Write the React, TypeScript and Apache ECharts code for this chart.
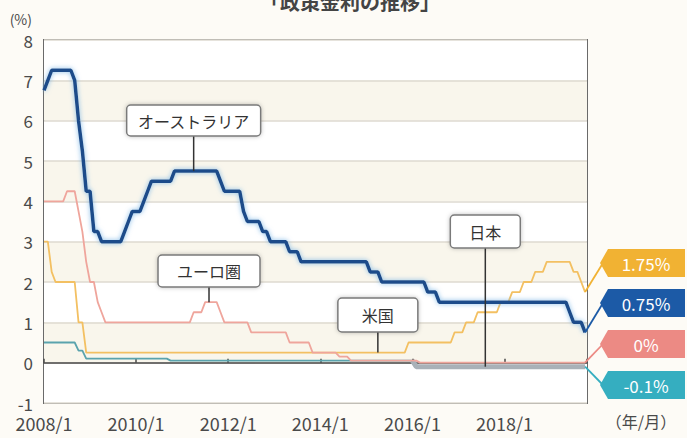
import React, { useEffect, useRef } from "react";
import * as echarts from "echarts";

// ---- data (change points, monthly values held until next change) ----
const END_MONTH = "2019/10";

const ausDates = ["2008/1", "2008/2", "2008/3", "2008/9", "2008/10", "2008/11", "2008/12", "2009/2", "2009/4", "2009/10", "2009/11", "2009/12", "2010/3", "2010/4", "2010/5", "2010/11", "2011/11", "2011/12", "2012/5", "2012/6", "2012/10", "2012/12", "2013/5", "2013/8", "2015/2", "2015/5", "2016/5", "2016/8", "2019/6", "2019/7", "2019/10"];
const ausRates = [6.75, 7.0, 7.25, 7.0, 6.0, 5.25, 4.25, 3.25, 3.0, 3.25, 3.5, 3.75, 4.0, 4.25, 4.5, 4.75, 4.5, 4.25, 3.75, 3.5, 3.25, 3.0, 2.75, 2.5, 2.25, 2.0, 1.75, 1.5, 1.25, 1.0, 0.75];

const euroDates = ["2008/1", "2008/7", "2008/10", "2008/11", "2008/12", "2009/1", "2009/3", "2009/4", "2009/5", "2011/4", "2011/7", "2011/11", "2011/12", "2012/7", "2013/5", "2013/11", "2014/6", "2014/9", "2016/3"];
const euroRates = [4.0, 4.25, 3.75, 3.25, 2.5, 2.0, 1.5, 1.25, 1.0, 1.25, 1.5, 1.25, 1.0, 0.75, 0.5, 0.25, 0.15, 0.05, 0.0];

const usDates = ["2008/1", "2008/3", "2008/4", "2008/10", "2008/12", "2015/12", "2016/12", "2017/3", "2017/6", "2017/12", "2018/3", "2018/6", "2018/9", "2018/12", "2019/7", "2019/9", "2019/10"];
const usRates = [3.0, 2.25, 2.0, 1.0, 0.25, 0.5, 0.75, 1.0, 1.25, 1.5, 1.75, 2.0, 2.25, 2.5, 2.25, 2.0, 1.75];

const japanDates = ["2008/1", "2008/10", "2008/12", "2010/10", "2016/2"];
const japanRates = [0.5, 0.3, 0.1, 0.05, -0.1];
const japanNegativeFrom = "2016/1";

const xTickLabels = ["2008/1", "2010/1", "2012/1", "2014/1", "2016/1", "2018/1"];
const endLabels = ["1.75%", "0.75%", "0%", "-0.1%"];

// callouts: name, anchor month
const calloutNames = ["オーストラリア", "ユーロ圏", "米国", "日本"];
const calloutMonths = ["2011/4", "2011/8", "2015/4", "2017/8"];

function monthIndex(d: string) {
  const [y, m] = d.split("/").map(Number);
  return (y - 2008) * 12 + (m - 1);
}

function expand(dates: string[], rates: number[]): [number, number][] {
  const last = monthIndex(END_MONTH);
  const out: [number, number][] = [];
  let j = 0;
  for (let i = 0; i <= last; i++) {
    while (j + 1 < dates.length && monthIndex(dates[j + 1]) <= i) j++;
    out.push([i, rates[j]]);
  }
  return out;
}

export default function App() {
  const ref = useRef<HTMLDivElement>(null);
  useEffect(() => {
    if (!ref.current) return;
    const chart = echarts.init(ref.current, null, { renderer: "svg" });
    const aus = expand(ausDates, ausRates);
    const euro = expand(euroDates, euroRates);
    const us = expand(usDates, usRates);
    const jp = expand(japanDates, japanRates);
    const negIdx = monthIndex(japanNegativeFrom);
    const jpPos = jp.filter((p) => p[0] <= negIdx);
    const jpNeg = jp.filter((p) => p[0] >= negIdx);
    const lastM = monthIndex(END_MONTH);
    const font = "'Noto Sans CJK JP', 'Noto Sans', sans-serif";

    chart.setOption({
      animation: false,
      backgroundColor: "#fdfbf6",
      textStyle: { fontFamily: font },
      grid: {
        left: 44, right: 100, top: 40, bottom: 35,
        show: true, backgroundColor: "#ffffff", borderColor: "#6a6a6a", borderWidth: 2,
      },
      xAxis: [
        {
          type: "value", min: 0, max: lastM + 0.5, interval: 24,
          axisLine: { show: false, onZero: false }, axisTick: { show: false }, splitLine: { show: false },
          axisLabel: {
            fontSize: 18, lineHeight: 18, color: "#4a4a4a", margin: 11, showMaxLabel: false,
            formatter: (v: number) => xTickLabels[v / 24] ?? "",
          },
        },
        {
          type: "value", min: 0, max: lastM + 0.5, interval: 24, position: "bottom",
          axisLine: { show: true, onZero: true, lineStyle: { color: "#4a4a4a", width: 1.5 } },
          axisTick: { show: true, length: 4, inside: true, lineStyle: { color: "#4a4a4a", width: 1.5 } },
          axisLabel: { show: false }, splitLine: { show: false },
        },
      ],
      yAxis: {
        type: "value", min: -1, max: 8, interval: 1,
        name: "(%)", nameLocation: "end", nameGap: 14,
        nameTextStyle: { fontSize: 14, color: "#4a4a4a", align: "right", padding: [0, 12, 0, 0] },
        axisLine: { show: false }, axisTick: { show: false },
        axisLabel: { fontSize: 17, lineHeight: 15, color: "#4a4a4a", margin: 11 },
        splitLine: { show: true, lineStyle: { color: "#dedad0", width: 1.5 } },
        splitArea: { show: true, areaStyle: { color: ["#ffffff", "#f9f6ec"] } },
      },
      series: [
        { type: "line", name: "日本負", data: jpNeg, showSymbol: false, lineStyle: { color: "#a9b1b8", width: 5 }, z: 2 },
        { type: "line", name: "日本", data: jpPos, showSymbol: false, lineStyle: { color: "#5aa3ad", width: 1.8 }, z: 3 },
        { type: "line", name: "米国", data: us, showSymbol: false, lineStyle: { color: "#f3c062", width: 1.8 }, z: 4 },
        { type: "line", name: "ユーロ圏", data: euro, showSymbol: false, lineStyle: { color: "#efa59c", width: 1.8 }, z: 5 },
        {
          type: "line", name: "オーストラリア", data: aus, showSymbol: false, z: 6,
          lineStyle: { color: "#1f4c8a", width: 3.5, shadowColor: "rgba(120,180,230,0.9)", shadowBlur: 5 },
        },
      ],
    });

    const px = (m: number, v: number) => chart.convertToPixel({ gridIndex: 0 }, [m, v]) as number[];
    const seriesByName: Record<string, [number, number][]> = {
      "オーストラリア": aus, "ユーロ圏": euro, "米国": us, "日本": jp,
    };
    const boxes = [
      { w: 134, h: 31, top: 105 },
      { w: 102, h: 32, top: 255 },
      { w: 80, h: 34, top: 298 },
      { w: 70, h: 33, top: 215 },
    ];
    const elements: any[] = [];
    calloutNames.forEach((name, i) => {
      const m = monthIndex(calloutMonths[i]);
      const v = seriesByName[name][m][1];
      const [x, y] = px(m, v);
      const b = boxes[i];
      elements.push({
        type: "line", z: 20,
        shape: { x1: x, y1: b.top + b.h, x2: x, y2: y },
        style: { stroke: "#333", lineWidth: 1.5 },
      });
      elements.push({
        type: "rect", z: 21,
        shape: { x: x - b.w / 2, y: b.top, width: b.w, height: b.h, r: 4 },
        style: { fill: "#ffffff", stroke: "#7a7a7a", lineWidth: 1.5, shadowBlur: 4, shadowColor: "rgba(0,0,0,0.25)" },
      });
      elements.push({
        type: "text", z: 22, x, y: b.top + b.h / 2,
        style: { text: name, fontSize: 16, fill: "#333", align: "center", verticalAlign: "middle", fontFamily: font },
      });
    });

    const tagColors = ["#f1b233", "#1c5aa6", "#ec8a84", "#35aec0"];
    const tagYs = [263, 303, 344, 385];
    const tagSeries = [us, aus, euro, jp];
    endLabels.forEach((lab, i) => {
      const s = tagSeries[i];
      const [ex, ey] = px(lastM, s[s.length - 1][1]);
      const cy = tagYs[i];
      const tipX = 600;
      elements.push({
        type: "line", z: 20,
        shape: { x1: ex, y1: ey, x2: tipX + 3, y2: cy },
        style: { stroke: tagColors[i], lineWidth: 1.8 },
      });
      elements.push({
        type: "polygon", z: 21,
        shape: { points: [[tipX, cy], [tipX + 8, cy - 14], [685, cy - 14], [685, cy + 14], [tipX + 8, cy + 14]] },
        style: { fill: tagColors[i] },
      });
      elements.push({
        type: "text", z: 22, x: 646, y: cy,
        style: { text: lab, fontSize: 17, fill: "#ffffff", align: "center", verticalAlign: "middle", fontFamily: font },
      });
    });

    elements.push({
      type: "text", x: 641, y: 421,
      style: { text: "（年/月）", fontSize: 16, fill: "#4a4a4a", align: "center", verticalAlign: "middle", fontFamily: font },
    });
    elements.push({
      type: "text", x: 350, y: -9,
      style: { text: "「政策金利の推移」", fontSize: 20, fontWeight: "bold", fill: "#444", align: "center", verticalAlign: "top", fontFamily: font },
    });

    chart.setOption({ graphic: { elements } });
    return () => chart.dispose();
  }, []);
  return (
    <div
      ref={ref}
      style={{ position: "fixed", left: 0, top: 0, width: 687, height: 438 }}
    />
  );
}
